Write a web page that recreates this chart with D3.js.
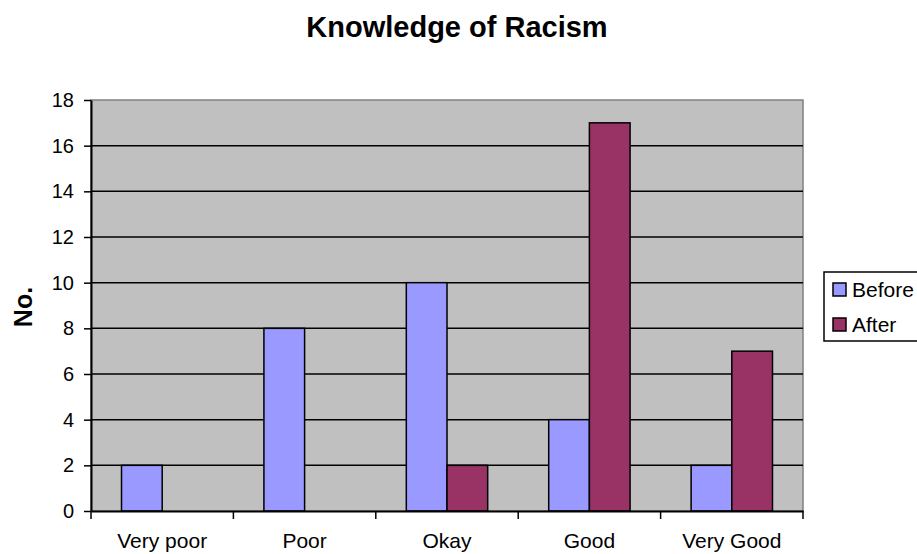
<!DOCTYPE html>
<meta charset="utf-8">
<style>
  body { margin: 0; background: #fff; }
  text { font-family: "Liberation Sans", Arial, sans-serif; }
</style>
<script src="https://d3js.org/d3.v7.min.js"></script>
<div id="chart"></div>
<script>
// chart data
var categories = ["Very poor", "Poor", "Okay", "Good", "Very Good"];
var seriesNames = ["Before", "After"];
var beforeValues = [2, 8, 10, 4, 2];
var afterValues = [0, 0, 2, 17, 7];
var yTicks = [0, 2, 4, 6, 8, 10, 12, 14, 16, 18];
var colors = ["#9999ff", "#993366"];

var width = 917, height = 554;
var margin = {top: 100, right: 114, bottom: 43, left: 91};

var svg = d3.select("#chart").append("svg")
    .attr("width", width)
    .attr("height", height);

var x = d3.scaleBand()
    .domain(categories)
    .range([margin.left, width - margin.right])
    .paddingInner(0)
    .paddingOuter(0);

var x1 = d3.scaleBand()
    .domain(seriesNames)
    .range([0, x.bandwidth()])
    .paddingInner(0)
    .paddingOuter(0.75);

var y = d3.scaleLinear()
    .domain([0, 18])
    .range([height - margin.bottom, margin.top]);

// plot area
svg.append("rect")
    .attr("x", margin.left)
    .attr("y", margin.top)
    .attr("width", width - margin.left - margin.right)
    .attr("height", height - margin.top - margin.bottom)
    .style("fill", "#c0c0c0")
    .style("stroke", "#808080")
    .style("stroke-width", 1.5);

// gridlines
svg.selectAll(".grid")
    .data(yTicks.filter(function (d) { return d > 0 && d < 18; }))
    .enter()
    .append("line")
      .attr("x1", margin.left)
      .attr("x2", width - margin.right)
      .attr("y1", function (d) { return y(d); })
      .attr("y2", function (d) { return y(d); })
      .style("stroke", "black")
      .style("stroke-width", 1.5);

// bars
var rows = categories.map(function (c, i) {
  return [
    {cat: c, name: "Before", value: beforeValues[i], color: colors[0]},
    {cat: c, name: "After", value: afterValues[i], color: colors[1]}
  ];
});

svg.selectAll(".group")
    .data(rows)
    .enter()
    .append("g")
      .attr("transform", function (d) { return "translate(" + x(d[0].cat) + ",0)"; })
    .selectAll("rect")
    .data(function (d) { return d.filter(function (e) { return e.value > 0; }); })
    .enter()
    .append("rect")
      .attr("x", function (d) { return x1(d.name); })
      .attr("y", function (d) { return y(d.value); })
      .attr("width", x1.bandwidth())
      .attr("height", function (d) { return y(0) - y(d.value); })
      .style("fill", function (d) { return d.color; })
      .style("stroke", "black")
      .style("stroke-width", 1.5);

// y axis
var yAxis = svg.append("g")
    .attr("transform", "translate(" + margin.left + ",0)")
    .call(d3.axisLeft(y).tickValues(yTicks).tickSize(7).tickPadding(10).tickSizeOuter(0));
yAxis.select(".domain").style("stroke", "black").style("stroke-width", 2);
yAxis.selectAll(".tick line").style("stroke", "black").style("stroke-width", 1.5);
yAxis.selectAll("text")
    .style("font-family", "'Liberation Sans', Arial, sans-serif")
    .style("font-size", "20px")
    .style("fill", "black");

// x axis
var xAxis = svg.append("g")
    .attr("transform", "translate(0," + y(0) + ")")
    .call(d3.axisBottom(x).tickSize(0).tickPadding(22));
xAxis.select(".domain").style("stroke", "black").style("stroke-width", 2);
xAxis.selectAll("text")
    .style("font-family", "'Liberation Sans', Arial, sans-serif")
    .style("font-size", "21px")
    .style("fill", "black");

// x tick marks at category boundaries
var bounds = categories.map(function (c) { return x(c); }).concat([x.range()[1]]);
svg.selectAll(".xtick")
    .data(bounds)
    .enter()
    .append("line")
      .attr("x1", function (d) { return d; })
      .attr("x2", function (d) { return d; })
      .attr("y1", y(0))
      .attr("y2", y(0) + 8)
      .style("stroke", "black")
      .style("stroke-width", 1.5);

// title
svg.append("text")
    .attr("x", 457)
    .attr("y", 37)
    .attr("text-anchor", "middle")
    .style("font-size", "29px")
    .style("font-weight", "bold")
    .text("Knowledge of Racism");

// y label
svg.append("text")
    .attr("transform", "translate(32,307) rotate(-90)")
    .attr("text-anchor", "middle")
    .style("font-size", "25px")
    .style("font-weight", "bold")
    .text("No.");

// legend
var legend = svg.append("g").attr("transform", "translate(824,272)");
legend.append("rect")
    .attr("width", 110)
    .attr("height", 69)
    .style("fill", "white")
    .style("stroke", "black")
    .style("stroke-width", 1.5);

var items = legend.selectAll(".item")
    .data(seriesNames)
    .enter()
    .append("g")
      .attr("transform", function (d, i) { return "translate(9," + (11 + i * 35) + ")"; });
items.append("rect")
    .attr("width", 13)
    .attr("height", 13)
    .style("fill", function (d, i) { return colors[i]; })
    .style("stroke", "black")
    .style("stroke-width", 1.5);
items.append("text")
    .attr("x", 19)
    .attr("y", 14)
    .style("font-size", "21px")
    .text(function (d) { return d; });
</script>
